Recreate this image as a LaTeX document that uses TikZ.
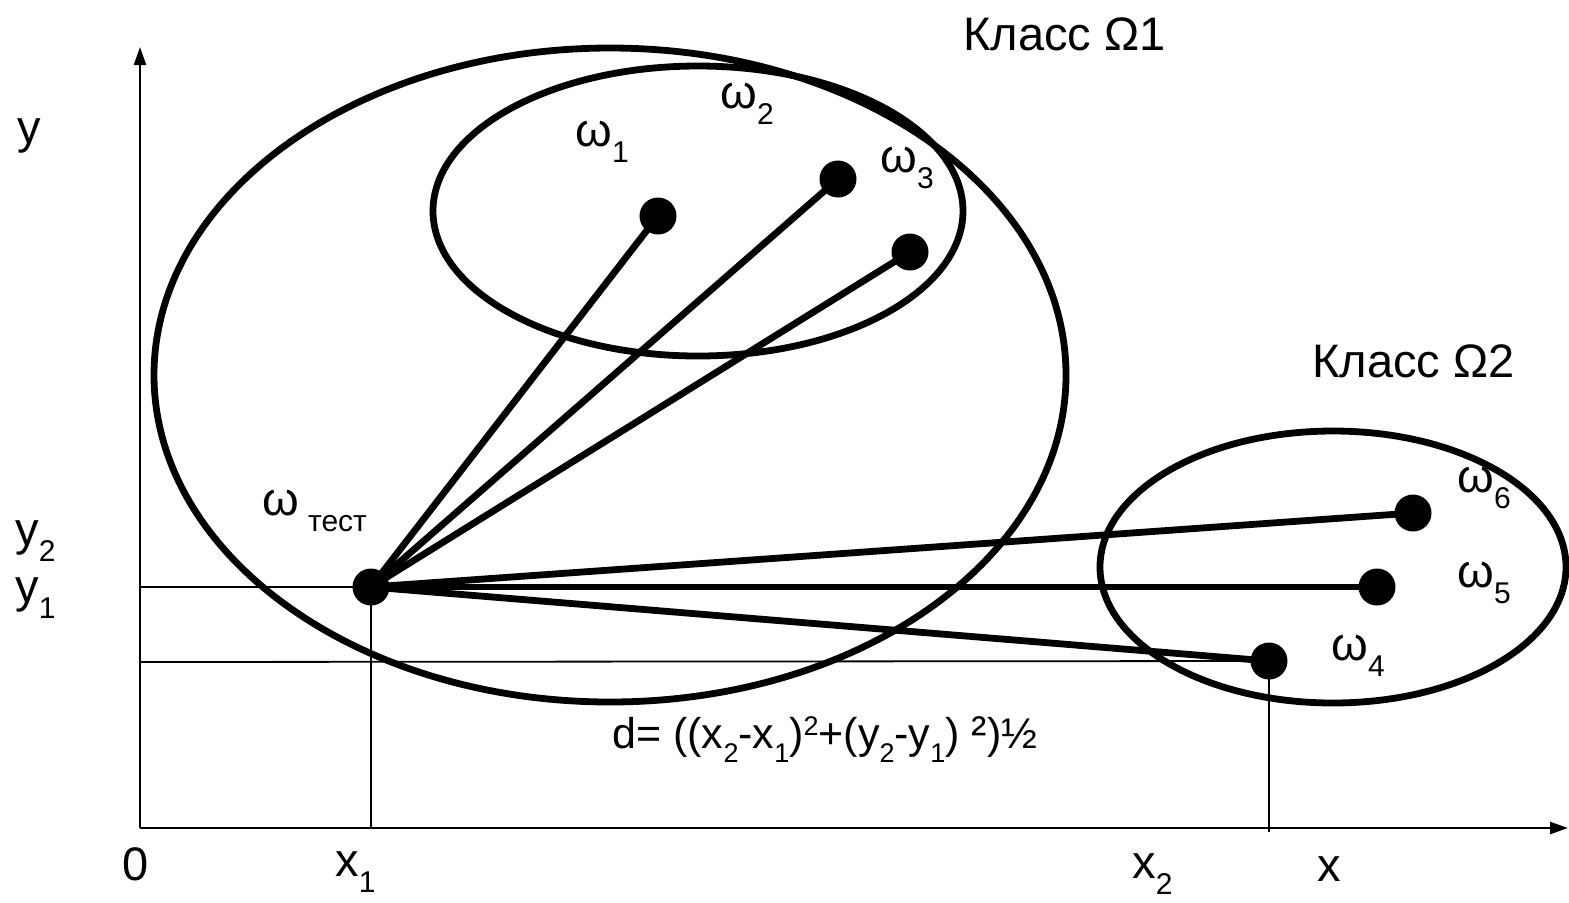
\documentclass[tikz,border=0pt]{standalone}
\usepackage{fontspec}
\setmainfont{Liberation Sans}
\usetikzlibrary{arrows.meta}
\newcommand{\lblfont}{\fontsize{23.5}{27}\selectfont}
\newcommand{\frmfont}{\fontsize{21.5}{25}\selectfont}
\newcommand{\dn}[1]{\raisebox{-8pt}{\fontsize{15}{15}\selectfont #1}}
\newcommand{\fdn}[1]{\raisebox{-7pt}{\fontsize{13.5}{13.5}\selectfont #1}}
\newcommand{\fup}[1]{\raisebox{6.5pt}{\fontsize{13.5}{13.5}\selectfont #1}}
\tikzset{
  axis/.style={line width=1.2pt, -{Triangle[length=9pt,width=6pt]}},
  guide/.style={line width=0.9pt},
  cls/.style={line width=3.4pt},
  link/.style={line width=3.4pt},
  pt/.style={circle, fill=black, inner sep=0pt, minimum size=18.5pt},
  lab/.style={font=\lblfont, inner sep=0pt, anchor=base west},
  frm/.style={font=\frmfont, inner sep=0pt, anchor=base west}
}
\begin{document}
\begin{tikzpicture}[x=0.5pt, y=-0.5pt]
\useasboundingbox (0,0) rectangle (1569,902);

% axes
\coordinate (O) at (140,828);
\coordinate (ytop) at (140,47);
\coordinate (xend) at (1568,828);
\draw[axis] (O) -- (ytop);
\draw[axis] (O) -- (xend);

% classes
\draw[cls] (610,375) ellipse [x radius=456, y radius=327];
\draw[cls] (698,211) ellipse [x radius=265, y radius=145];
\draw[cls] (1333,567) ellipse [x radius=233, y radius=136];

% objects
\node[pt] (wt) at (371,587) {};
\node[pt] (w1) at (658,216) {};
\node[pt] (w2) at (838,179) {};
\node[pt] (w3) at (910,252) {};
\node[pt] (w4) at (1269,661) {};
\node[pt] (w5) at (1377,587) {};
\node[pt] (w6) at (1413,513) {};

% projections
\coordinate (ya) at (140,587);
\coordinate (yb) at (140,662);
\coordinate (xa) at (371,828);
\coordinate (xb) at (1269,832);
\draw[guide] (ya) -- (wt.center);
\draw[guide] (yb) -- (w4.center);
\draw[guide] (wt.center) -- (xa);
\draw[guide] (w4.center) -- (xb);

% distances
\foreach \p in {w1,w2,w3,w4,w5,w6}
  \draw[link] (wt.center) -- (\p.center);

% labels
\node[lab] (cl1) at (963,50) {Класс Ω1};
\node[lab] (cl2) at (1312,377) {Класс Ω2};
\node[lab] (lw1) at (575,146) {ω\dn{1}};
\node[lab] (lw2) at (720,108) {ω\dn{2}};
\node[lab] (lw3) at (880,172) {ω\dn{3}};
\node[lab] (lwt) at (262,515) {ω\hspace{4.5pt}\dn{тест}};
\node[lab] (lw4) at (1331,660) {ω\dn{4}};
\node[lab] (lw5) at (1457,587) {ω\dn{5}};
\node[lab] (lw6) at (1457,492) {ω\dn{6}};

\node[lab] (ly) at (17,143) {y};
\node[lab] (ly2) at (15,545) {y\dn{2}};
\node[lab] (ly1) at (15,602) {y\dn{1}};
\node[lab] (l0) at (122,880) {0};
\node[lab] (lx1) at (335,876) {x\dn{1}};
\node[lab] (lx2) at (1132,878) {x\dn{2}};
\node[lab] (lx) at (1317,881) {x};

\node[frm] (dist) at (612,748)
  {d= ((x\fdn{2}-x\fdn{1})\fup{2}+(y\fdn{2}-y\fdn{1}) {\fontsize{23}{23}\selectfont ²})½};
\end{tikzpicture}
\end{document}
